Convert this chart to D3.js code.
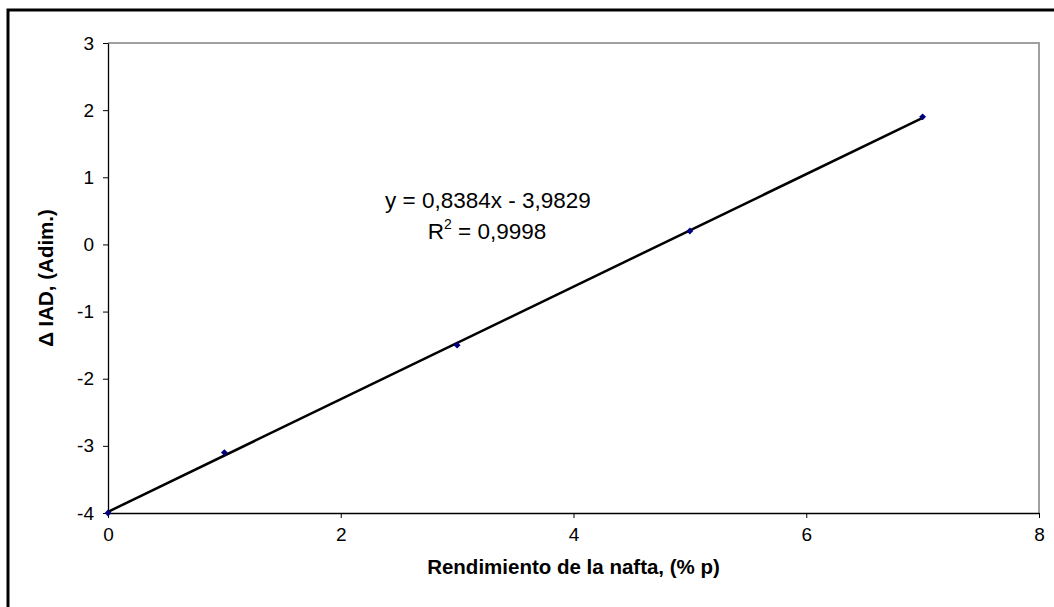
<!DOCTYPE html>
<html>
<head>
<meta charset="utf-8">
<script src="https://cdn.jsdelivr.net/npm/d3@7"></script>
<style>
  body { margin: 0; background: #fff; }
  svg { display: block; font-family: "Liberation Sans", Arial, sans-serif; }
  .axis text { font-size: 19px; fill: #000; }
  .axis path, .axis line { stroke: #000; }
</style>
</head>
<body>
<svg id="chart" width="1054" height="607"></svg>
<script>
// data
let xValues = [0, 1, 3, 5, 7];
let yValues = [-4, -3.1, -1.5, 0.2, 1.9];
let xTicks = [0, 2, 4, 6, 8];
let yTicks = [-4, -3, -2, -1, 0, 1, 2, 3];
let fitSlope = 0.8384;
let fitIntercept = -3.9829;
let eqLabel = "y = 0,8384x - 3,9829";
let r2Label = " = 0,9998";

let svg = d3.select("#chart");

// outer frame (runs off the right and bottom edge)
svg.append("rect")
    .attr("x", 8).attr("y", 10)
    .attr("width", 1070).attr("height", 620)
    .attr("fill", "none")
    .attr("stroke", "#000")
    .attr("stroke-width", 3);

let plotL = 108, plotR = 1039, plotT = 43, plotB = 513;

let x = d3.scaleLinear().domain([0, 8]).range([plotL, plotR]);
let y = d3.scaleLinear().domain([-4, 3]).range([plotB, plotT]);

// plot border top/right in grey
svg.append("path")
    .attr("d", `M${plotL},${plotT}H${plotR}V${plotB}`)
    .attr("fill", "none")
    .attr("stroke", "#a0a0a0")
    .attr("stroke-width", 2);

let yAxis = svg.append("g")
    .attr("class", "axis")
    .attr("transform", `translate(${plotL},0)`)
    .call(d3.axisLeft(y).tickValues(yTicks).tickSize(5).tickSizeOuter(0).tickPadding(9)
        .tickFormat(d => d < 0 ? "-" + Math.abs(d) : d));

let xAxis = svg.append("g")
    .attr("class", "axis")
    .attr("transform", `translate(0,${plotB})`)
    .call(d3.axisBottom(x).tickValues(xTicks).tickSize(5).tickSizeOuter(0).tickPadding(10));

svg.selectAll(".axis .domain").attr("stroke-width", 1.3);

// trend line over the data range
let xMin = d3.min(xValues), xMax = d3.max(xValues);
svg.append("line")
    .attr("x1", x(xMin)).attr("y1", y(fitSlope * xMin + fitIntercept))
    .attr("x2", x(xMax)).attr("y2", y(fitSlope * xMax + fitIntercept))
    .attr("stroke", "#000")
    .attr("stroke-width", 2.5);

// points (small navy diamonds)
svg.selectAll(".pt")
    .data(xValues)
    .enter()
    .append("path")
    .attr("class", "pt")
    .attr("d", d3.symbol().type(d3.symbolDiamond2).size(30))
    .attr("transform", (d, i) => `translate(${x(d)},${y(yValues[i])})`)
    .attr("fill", "#000080");

// equation
svg.append("text")
    .attr("x", 488).attr("y", 208)
    .attr("text-anchor", "middle")
    .attr("font-size", 22.5)
    .text(eqLabel);

let r2 = svg.append("text")
    .attr("x", 487).attr("y", 239)
    .attr("text-anchor", "middle")
    .attr("font-size", 22.5);
r2.append("tspan").text("R");
r2.append("tspan").attr("font-size", 14).attr("dy", -10).text("2");
r2.append("tspan").attr("dy", 10).text(r2Label);

// axis titles
svg.append("text")
    .attr("x", (plotL + plotR) / 2).attr("y", 574)
    .attr("text-anchor", "middle")
    .attr("font-size", 20.5)
    .attr("font-weight", "bold")
    .text("Rendimiento de la nafta, (% p)");

svg.append("text")
    .attr("transform", `translate(53,${(plotT + plotB) / 2}) rotate(-90)`)
    .attr("text-anchor", "middle")
    .attr("font-size", 20.5)
    .attr("font-weight", "bold")
    .text("Δ IAD, (Adim.)");
</script>
</body>
</html>
